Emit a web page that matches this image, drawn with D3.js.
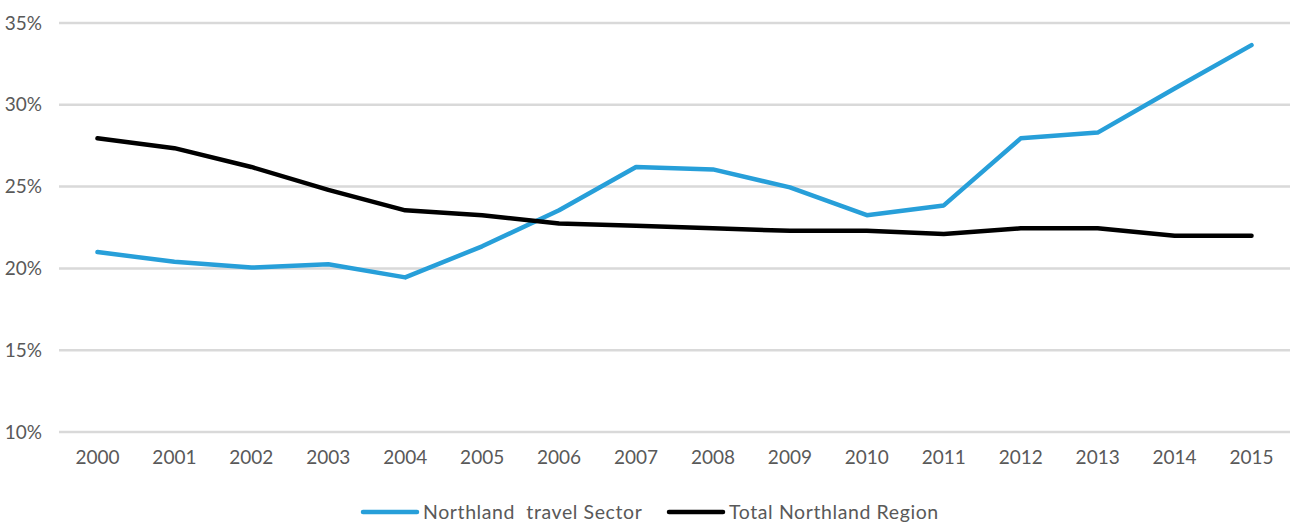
<!DOCTYPE html>
<html>
<head>
<meta charset="utf-8">
<script src="https://cdn.jsdelivr.net/npm/d3@7"></script>
<style>
  body { margin: 0; background: #fff; }
  svg text { font-family: "Lato", "Noto Sans", sans-serif; fill: #595959; }
</style>
</head>
<body>
<svg id="chart" width="1290" height="523"></svg>
<script>
// data
const years = ["2000", "2001", "2002", "2003", "2004", "2005", "2006", "2007",
  "2008", "2009", "2010", "2011", "2012", "2013", "2014", "2015"];
const travelSector = [21.0, 20.4, 20.05, 20.25, 19.45, 21.35, 23.55, 26.2,
  26.05, 24.95, 23.25, 23.85, 27.95, 28.3, 31.0, 33.65];
const totalRegion = [27.95, 27.35, 26.2, 24.8, 23.55, 23.25, 22.75, 22.6,
  22.45, 22.3, 22.3, 22.1, 22.45, 22.45, 22.0, 22.0];
const yTicks = [10, 15, 20, 25, 30, 35];

const series = [
  { name: "Northland  travel Sector", values: travelSector, color: "#279fd9" },
  { name: "Total Northland Region", values: totalRegion, color: "#000000" }
];

// dimensions
const $svg = d3.select("#chart");
const LEFT = 59;
const RIGHT = 1290;
const TOP = 23;
const BOTTOM = 432;

// scales
const x = d3.scaleBand().domain(years).range([LEFT, RIGHT]);
const y = d3.scaleLinear().domain([10, 35]).range([BOTTOM, TOP]);

// grid
$svg.append("g")
  .selectAll("line")
  .data(yTicks)
  .join("line")
  .attr("x1", LEFT)
  .attr("x2", RIGHT)
  .attr("y1", d => y(d))
  .attr("y2", d => y(d))
  .attr("stroke", "#d9d9d9")
  .attr("stroke-width", 2.5);

// y labels
$svg.append("g")
  .selectAll("text")
  .data(yTicks)
  .join("text")
  .attr("x", 42)
  .attr("y", d => y(d))
  .attr("dy", "0.35em")
  .attr("text-anchor", "end")
  .style("font-size", "19px")
  .text(d => `${d}%`);

// x labels
$svg.append("g")
  .selectAll("text")
  .data(years)
  .join("text")
  .attr("x", d => x(d) + x.bandwidth() / 2)
  .attr("y", 464)
  .attr("text-anchor", "middle")
  .style("font-size", "19px")
  .text(d => d);

// lines
const line = d3.line()
  .x((d, i) => x(years[i]) + x.bandwidth() / 2)
  .y(d => y(d));

$svg.append("g")
  .selectAll("path")
  .data(series)
  .join("path")
  .attr("d", d => line(d.values))
  .attr("fill", "none")
  .attr("stroke", d => d.color)
  .attr("stroke-width", 4.5)
  .attr("stroke-linecap", "round")
  .attr("stroke-linejoin", "round");

// legend
const legendX = [363, 669];
const $legend = $svg.append("g")
  .selectAll("g")
  .data(series)
  .join("g")
  .attr("transform", (d, i) => `translate(${legendX[i]}, 512)`);

$legend.append("line")
  .attr("x1", 0)
  .attr("x2", 54)
  .attr("stroke", d => d.color)
  .attr("stroke-width", 4.5)
  .attr("stroke-linecap", "round");

$legend.append("text")
  .attr("x", 60)
  .attr("dy", "0.35em")
  .style("font-size", "19.5px")
  .style("letter-spacing", "0.6px")
  .style("white-space", "pre")
  .text(d => d.name);
</script>
</body>
</html>
